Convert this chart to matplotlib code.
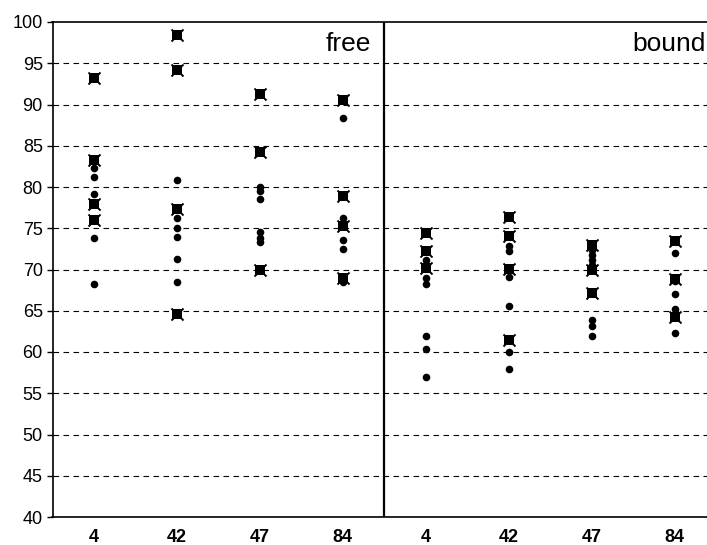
import matplotlib.pyplot as plt
import numpy as np

plt.rcParams['font.family'] = ['Liberation Sans', 'DejaVu Sans']

# categories (free panel then bound panel)
labels = ['4', '42', '47', '84', '4', '42', '47', '84']

# dot values per category
dots = [
    [82.3, 81.2, 79.2, 73.8, 68.2],
    [80.9, 76.3, 75.0, 73.9, 71.3, 68.5],
    [80.0, 79.5, 78.5, 74.5, 73.8, 73.3],
    [88.4, 76.3, 73.6, 72.5, 68.5],
    [71.2, 70.5, 69.0, 68.2, 62.0, 60.4, 57.0],
    [72.8, 72.3, 69.1, 65.6, 60.0, 58.0],
    [72.4, 71.8, 71.2, 70.5, 63.9, 63.1, 62.0],
    [72.0, 68.6, 67.0, 65.2, 62.3],
]

# cross values per category
crosses = [
    [93.2, 83.3, 78.0, 76.0],
    [98.4, 94.2, 77.3, 64.6],
    [91.3, 84.2, 70.0],
    [90.5, 78.9, 75.3, 69.0],
    [74.4, 72.3, 70.2],
    [76.4, 74.1, 70.1, 61.5],
    [73.0, 70.0, 67.2],
    [73.4, 68.9, 64.2],
]

panel_names = ['free', 'bound']

fig = plt.figure(figsize=(7.07, 5.45), dpi=100)
ax = fig.add_axes([52.5 / 707, 28 / 545, 1 - 52.5 / 707, 495 / 545])

for i in range(len(labels)):
    ax.scatter([i] * len(dots[i]), dots[i], s=30, color='black', marker='o', zorder=3, linewidths=0)
    ax.scatter([i] * len(crosses[i]), crosses[i], s=42, color='black', marker='s', zorder=3, linewidths=0)
    ax.scatter([i] * len(crosses[i]), crosses[i], s=75, color='black', marker='x', zorder=3, linewidths=1.4)

ax.set_xlim(-0.5, 7.39)
ax.set_ylim(40, 100)
ax.set_yticks(np.arange(40, 101, 5))
ax.set_yticklabels([str(v) for v in range(40, 101, 5)], fontsize=13)
ax.set_xticks(range(len(labels)))
ax.set_xticklabels(labels, fontsize=13, fontweight='bold')
ax.tick_params(axis='x', length=0, pad=9)
ax.tick_params(axis='y', length=4, width=1, direction='out', pad=3)

for v in range(45, 100, 5):
    ax.axhline(v, color='black', linestyle=(0, (5, 4)), linewidth=0.8, zorder=1)

ax.axvline(3.5, color='black', linewidth=1.6, zorder=2)

ax.spines['right'].set_visible(False)
for s in ['left', 'bottom', 'top']:
    ax.spines[s].set_linewidth(1.2)

ax.text(3.34, 97.3, panel_names[0], fontsize=19, ha='right', va='center')
ax.text(7.37, 97.3, panel_names[1], fontsize=19, ha='right', va='center')

fig.savefig('out.png', dpi=100)
